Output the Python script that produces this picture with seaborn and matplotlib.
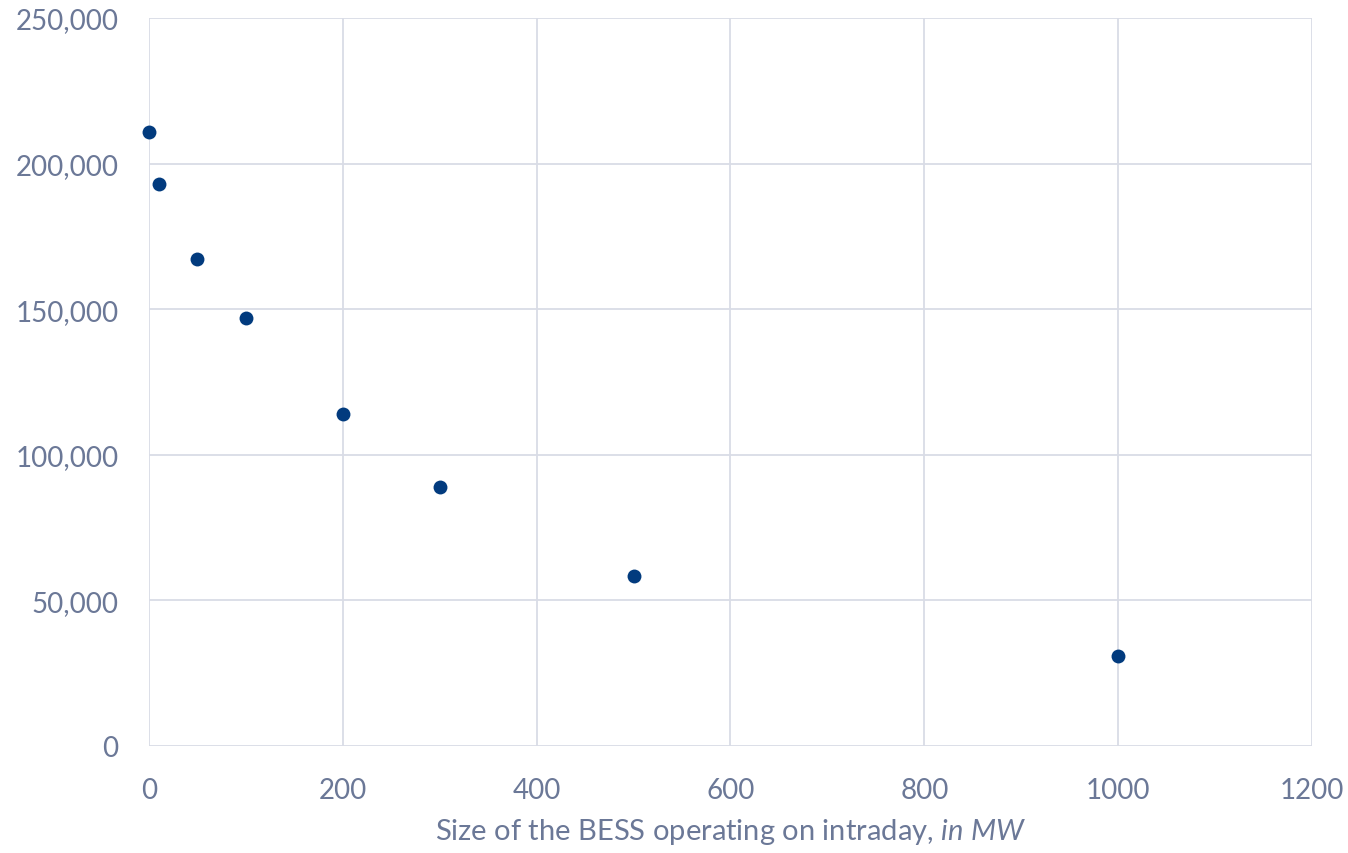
import matplotlib
matplotlib.use("Agg")
import matplotlib.pyplot as plt
import seaborn as sns
import pandas as pd
from matplotlib.ticker import FuncFormatter, MultipleLocator

bess_size_mw = [0, 10, 50, 100, 200, 300, 500, 1000]
values = [211000, 193000, 167200, 147000, 114000, 88900, 58400, 30900]

df = pd.DataFrame({"size": bess_size_mw, "value": values})

sns.set_theme(style="white")
plt.rcParams['font.family'] = ['Lato', 'DejaVu Sans']
plt.rcParams['mathtext.fontset'] = 'custom'
plt.rcParams['mathtext.rm'] = 'Lato'
plt.rcParams['mathtext.it'] = 'Lato:italic'

text_color = "#6B7897"
grid_color = "#D9DCE6"
point_color = "#023B7E"

fig = plt.figure(figsize=(13.48, 8.54), dpi=100)
ax = fig.add_axes([0.1105, 0.1253, 0.8628, 0.8525])

sns.scatterplot(data=df, x="size", y="value", ax=ax, color=point_color,
                s=100, edgecolor=point_color, linewidth=0, zorder=3, clip_on=False)

ax.set_xlim(0, 1200)
ax.set_ylim(0, 250000)
ax.xaxis.set_major_locator(MultipleLocator(200))
ax.yaxis.set_major_locator(MultipleLocator(50000))
ax.yaxis.set_major_formatter(FuncFormatter(lambda v, p: f"{int(v):,}"))

ax.grid(True, color=grid_color, linewidth=1.3)
for s in ax.spines.values():
    s.set_visible(False)
ax.tick_params(axis='both', length=0, labelsize=20, colors=text_color)
ax.tick_params(axis='x', pad=22)
ax.tick_params(axis='y', pad=22)

ax.set_xlabel("Size of the BESS operating on intraday, $\\mathit{in\\ MW}$",
              fontsize=21, color=text_color, labelpad=10)
ax.set_ylabel("")

fig.savefig("out.png", dpi=100)
